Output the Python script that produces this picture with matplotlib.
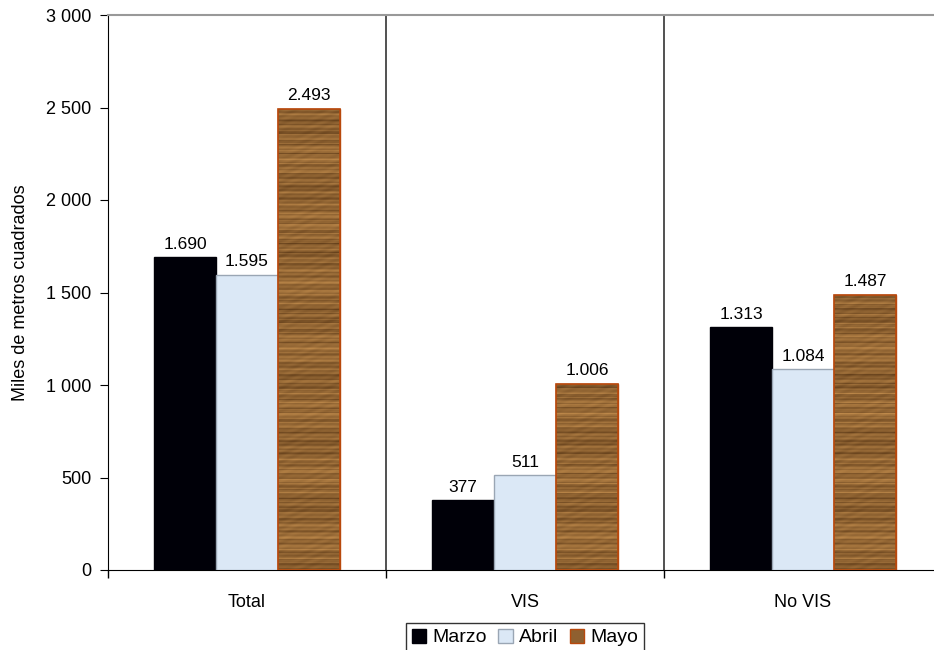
import matplotlib
matplotlib.use("Agg")
import matplotlib.pyplot as plt
import numpy as np
from matplotlib.ticker import FuncFormatter, FixedLocator

plt.rcParams['font.family'] = ['Liberation Sans', 'DejaVu Sans']

categories = ["Total", "VIS", "No VIS"]
series = ["Marzo", "Abril", "Mayo"]
marzo = [1690, 377, 1313]
abril = [1595, 511, 1084]
mayo = [2493, 1006, 1487]
values = [marzo, abril, mayo]
ylabel = "Miles de metros cuadrados"

FS = 13
FS_LAB = 12.5

fig = plt.figure(figsize=(9.34, 6.5), dpi=100)
ax = fig.add_axes([108/934, 1-570/650, (942-108)/934, (570-15)/650])

width = 0.223
x = np.arange(len(categories))
faces = ["#000008", "#dbe8f6", "#8f6030"]
edges = ["#000008", "#9aa6b4", "#b8480c"]

# deterministic wood-like texture (decoration only)
rows = 500
r = np.arange(rows)
shade = (0.5 + 0.18*np.sin(r*1.7) + 0.14*np.sin(r*0.63+1.0) + 0.12*np.sin(r*3.1+0.4)
         + 0.08*np.sin(r*0.11))
cols = 60
c = np.arange(cols)
tex = shade[:, None] + 0.08*np.sin(c[None, :]*0.35 + r[:, None]*0.9) * np.sin(c[None, :]*0.07 + r[:, None]*0.05)
tex = np.clip(tex, 0, 1)
base_dark = np.array([0.38, 0.24, 0.10])
base_light = np.array([0.76, 0.55, 0.30])
wood = base_dark[None, None, :] + tex[:, :, None]*(base_light-base_dark)[None, None, :]

for i, (name, vals) in enumerate(zip(series, values)):
    pos = x + (i-1)*width
    bars = ax.bar(pos, vals, width, color=faces[i], edgecolor=edges[i], linewidth=1.0, label=name, zorder=3)
    if i == 2:
        for b in bars:
            bx = b.get_x()
            im = ax.imshow(wood, extent=[bx, bx+b.get_width(), 0, 3000],
                           aspect='auto', zorder=3.5, interpolation='bilinear')
            im.set_clip_path(b)
            ax.bar(b.get_x()+b.get_width()/2, b.get_height(), b.get_width(), facecolor='none',
                   edgecolor=edges[i], linewidth=1.2, zorder=4)
    for p, v in zip(pos, vals):
        ax.text(p, v+30, f"{v:,}".replace(",", "."), ha='center', va='bottom', fontsize=FS_LAB, zorder=5)

ax.set_xlim(-0.5, 2.5)
ax.set_ylim(0, 3000)
ax.set_yticks(np.arange(0, 3001, 500))
ax.yaxis.set_major_formatter(FuncFormatter(lambda v, p: f"{int(v):,}".replace(",", " ")))
ax.set_xticks(x)
ax.set_xticklabels(categories, fontsize=FS)
ax.xaxis.set_minor_locator(FixedLocator([-0.5, 0.5, 1.5, 2.5]))
ax.tick_params(axis='x', which='major', length=0, pad=17)
ax.tick_params(axis='x', which='minor', length=6, width=1, direction='out')
ax.tick_params(axis='y', labelsize=FS, length=6, direction='out', pad=6)
ax.set_ylabel(ylabel, fontsize=FS, labelpad=12)

ax.spines['right'].set_visible(False)
ax.spines['top'].set_color('#999999')
ax.spines['top'].set_linewidth(1.5)
for xb in [0.5, 1.5]:
    ax.axvline(xb, color='#333333', linewidth=1.2, zorder=2)

leg = fig.legend(loc='upper center', bbox_to_anchor=(525/934, 1-613/650),
                 ncol=3, frameon=True, fancybox=False, edgecolor='black', fontsize=FS + 1,
                 handlelength=0.75, handleheight=0.75, handletextpad=0.3, columnspacing=0.6, borderpad=0.3)
leg.get_frame().set_linewidth(1.0)

fig.savefig("out.png", dpi=100)
